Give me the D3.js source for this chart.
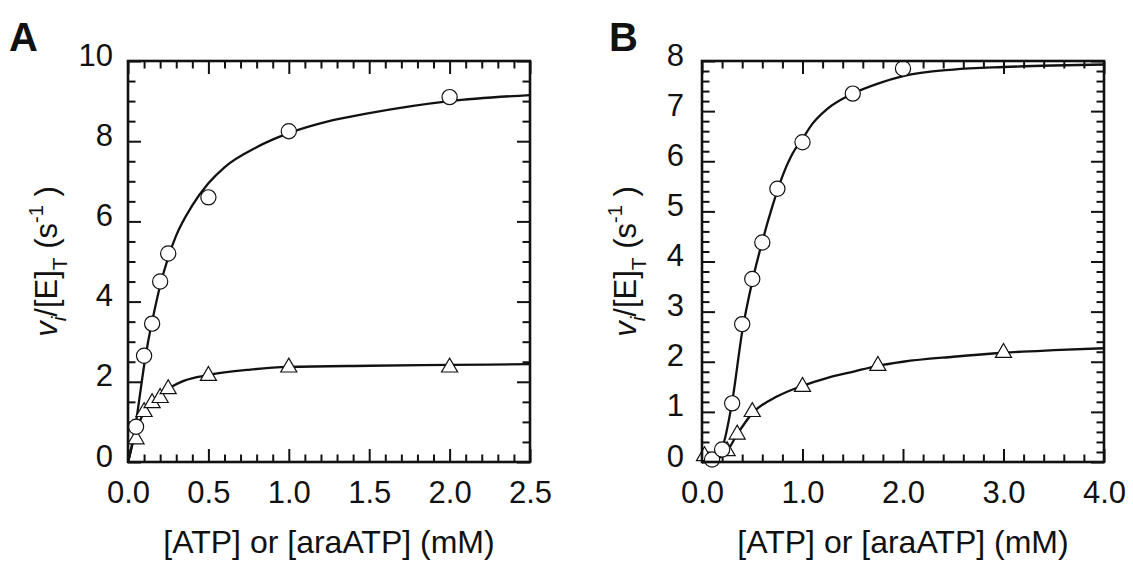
<!DOCTYPE html>
<html>
<head>
<meta charset="utf-8">
<script src="https://cdn.jsdelivr.net/npm/d3@7"></script>
<style>
  html, body { margin: 0; padding: 0; background: #fff; }
  svg { display: block; }
  text { font-family: "Liberation Sans", Arial, sans-serif; fill: #111; }
</style>
</head>
<body>
<svg id="chart" width="1133" height="562"></svg>
<script>
// ---------------- DATA ----------------
// Panel A
const aAtpConc = [0.05, 0.1, 0.15, 0.2, 0.25, 0.5, 1.0, 2.0];
const aAtpRate = [0.88, 2.65, 3.45, 4.5, 5.2, 6.6, 8.25, 9.1];
const aAraConc = [0.05, 0.1, 0.15, 0.2, 0.25, 0.5, 1.0, 2.0];
const aAraRate = [0.57, 1.25, 1.47, 1.6, 1.82, 2.15, 2.36, 2.36];
const aAtpFitConc = [0, 0.01, 0.03, 0.05, 0.075, 0.1, 0.125, 0.15, 0.2, 0.25, 0.3, 0.4, 0.5, 0.6, 0.8, 1.0, 1.25, 1.5, 2.0, 2.5];
const aAtpFitRate = [0, 0.15, 0.55, 1.0, 1.7, 2.4, 3.0, 3.5, 4.4, 5.1, 5.65, 6.4, 6.95, 7.35, 7.85, 8.2, 8.5, 8.7, 9.0, 9.15];
const aAraFitConc = [0, 0.05, 0.1, 0.15, 0.2, 0.25, 0.35, 0.5, 0.75, 1.0, 1.5, 2.0, 2.5];
const aAraFitRate = [0, 0.75, 1.25, 1.5, 1.65, 1.82, 2.03, 2.17, 2.3, 2.37, 2.4, 2.42, 2.44];
const aXTickLabels = ["0.0", "0.5", "1.0", "1.5", "2.0", "2.5"];
const aYTickLabels = ["0", "2", "4", "6", "8", "10"];

// Panel B
const bAtpConc = [0.1, 0.2, 0.3, 0.4, 0.5, 0.6, 0.75, 1.0, 1.5, 2.0];
const bAtpRate = [0.05, 0.25, 1.17, 2.75, 3.65, 4.38, 5.45, 6.38, 7.35, 7.85];
const bAraConc = [0.025, 0.25, 0.35, 0.5, 1.0, 1.75, 3.0];
const bAraRate = [0.12, 0.22, 0.55, 1.0, 1.5, 1.92, 2.18];
const bAtpFitConc = [0, 0.1, 0.2, 0.3, 0.4, 0.5, 0.6, 0.7, 0.8, 0.9, 1.0, 1.1, 1.25, 1.5, 1.75, 2.0, 2.5, 3.0, 3.5, 4.0];
const bAtpFitRate = [0, 0.05, 0.28, 1.2, 2.6, 3.6, 4.4, 5.1, 5.7, 6.15, 6.45, 6.75, 7.05, 7.35, 7.55, 7.7, 7.83, 7.88, 7.91, 7.93];
const bAraFitConc = [0, 0.1, 0.2, 0.25, 0.35, 0.5, 0.75, 1.0, 1.25, 1.5, 1.75, 2.0, 2.5, 3.0, 3.5, 4.0];
const bAraFitRate = [0, 0.03, 0.12, 0.22, 0.55, 0.97, 1.31, 1.52, 1.68, 1.8, 1.92, 2.0, 2.1, 2.18, 2.23, 2.27];
const bXTickLabels = ["0.0", "1.0", "2.0", "3.0", "4.0"];
const bYTickLabels = ["0", "1", "2", "3", "4", "5", "6", "7", "8"];

const xTitle = "[ATP] or [araATP] (mM)";

// ---------------- DRAW ----------------
const svg = d3.select("#chart");

function drawPanel(p) {
  const g = svg.append("g");
  const x = d3.scaleLinear().domain(p.xDomain).range([p.left, p.right]);
  const y = d3.scaleLinear().domain(p.yDomain).range([p.bottom, p.top]);

  const xMajor = p.xLabels.map(Number);
  const yMajor = p.yLabels.map(Number);
  const xMinor = d3.range(Math.round((p.xDomain[1] - p.xDomain[0]) / p.xMinorStep) + 1)
    .map(i => p.xDomain[0] + i * p.xMinorStep)
    .filter(v => !xMajor.some(m => Math.abs(m - v) < 1e-9));
  const yMinor = d3.range(Math.round((p.yDomain[1] - p.yDomain[0]) / p.yMinorStep) + 1)
    .map(i => p.yDomain[0] + i * p.yMinorStep)
    .filter(v => !yMajor.some(m => Math.abs(m - v) < 1e-9));

  const MAJ = 13, MIN = 7.5;
  function tickAxis(gen, tr, vals, len) {
    const a = g.append("g").attr("transform", tr)
      .call(gen.tickValues(vals).tickSize(-len).tickFormat(""));
    a.select(".domain").remove();
    a.selectAll("line").attr("stroke", "#111").attr("stroke-width", 2);
  }
  tickAxis(d3.axisBottom(x), `translate(0,${p.bottom})`, xMinor, MIN);
  tickAxis(d3.axisBottom(x), `translate(0,${p.bottom})`, xMajor, MAJ);
  tickAxis(d3.axisTop(x), `translate(0,${p.top})`, xMinor, MIN);
  tickAxis(d3.axisTop(x), `translate(0,${p.top})`, xMajor, MAJ);
  tickAxis(d3.axisLeft(y), `translate(${p.left},0)`, yMinor, MIN);
  tickAxis(d3.axisLeft(y), `translate(${p.left},0)`, yMajor, MAJ);
  tickAxis(d3.axisRight(y), `translate(${p.right},0)`, yMinor, MIN);
  tickAxis(d3.axisRight(y), `translate(${p.right},0)`, yMajor, MAJ);

  const xl = g.append("g").attr("transform", `translate(0,${p.bottom})`)
    .call(d3.axisBottom(x).tickValues(xMajor).tickSize(0).tickPadding(19)
      .tickFormat((d, i) => p.xLabels[i]));
  xl.select(".domain").remove();
  xl.selectAll("text").attr("font-size", 31).attr("font-family", "Liberation Sans, Arial, sans-serif").attr("fill", "#111");

  const yl = g.append("g").attr("transform", `translate(${p.left},0)`)
    .call(d3.axisLeft(y).tickValues(yMajor).tickSize(0).tickPadding(p.yPad)
      .tickFormat((d, i) => p.yLabels[i]));
  yl.select(".domain").remove();
  yl.selectAll("text").attr("font-size", 31).attr("dy", "0.13em")
    .attr("font-family", "Liberation Sans, Arial, sans-serif").attr("fill", "#111");

  const line = d3.line().x(d => x(d[0])).y(d => y(d[1])).curve(d3.curveMonotoneX);
  [[p.fitC1, p.fitR1], [p.fitC2, p.fitR2]].forEach(([c, r]) => {
    g.append("path").datum(c.map((v, i) => [v, r[i]]))
      .attr("d", line).attr("fill", "none").attr("stroke", "#111")
      .attr("stroke-width", 2.3).attr("stroke-linejoin", "round");
  });

  const tri = d3.symbol().type(d3.symbolTriangle).size(112);
  g.append("g").selectAll("path").data(p.triC.map((v, i) => [v, p.triR[i]]))
    .join("path")
    .attr("transform", d => `translate(${x(d[0])},${y(d[1])})`)
    .attr("d", tri).attr("fill", "#fff").attr("stroke", "#111").attr("stroke-width", 1.2);

  g.append("g").selectAll("circle").data(p.cirC.map((v, i) => [v, p.cirR[i]]))
    .join("circle")
    .attr("cx", d => x(d[0])).attr("cy", d => y(d[1])).attr("r", 7.6)
    .attr("fill", "#fff").attr("stroke", "#111").attr("stroke-width", 1.2);

  g.append("rect").attr("x", p.left).attr("y", p.top)
    .attr("width", p.right - p.left).attr("height", p.bottom - p.top)
    .attr("fill", "none").attr("stroke", "#111").attr("stroke-width", 2.6);

  g.append("text").attr("x", (p.left + p.right) / 2).attr("y", 553)
    .attr("text-anchor", "middle").attr("font-size", 32).text(xTitle);

  const yt = g.append("text")
    .attr("transform", `translate(${p.yTitleX},${(p.top + p.bottom) / 2}) rotate(-90)`)
    .attr("text-anchor", "middle").attr("font-size", 31);
  yt.append("tspan").attr("font-style", "italic").text("v");
  yt.append("tspan").attr("font-style", "italic").attr("font-size", 21).attr("dy", 9).text("i");
  yt.append("tspan").attr("dy", -9).text("/[E]");
  yt.append("tspan").attr("font-size", 21).attr("dy", 10).text("T");
  yt.append("tspan").attr("dy", -10).text(" (s");
  yt.append("tspan").attr("font-size", 20).attr("dy", -14).text("-1");
  yt.append("tspan").attr("dy", 14).text(" )");

  g.append("text").attr("x", p.letterX).attr("y", 51)
    .attr("font-family", "'Open Sans', 'Liberation Sans', sans-serif")
    .attr("font-weight", "bold").attr("font-size", 40).text(p.letter);
}

drawPanel({
  letter: "A", letterX: 9,
  left: 128, right: 530, top: 61, bottom: 462,
  xDomain: [0, 2.5], yDomain: [0, 10], xMinorStep: 0.1, yMinorStep: 0.5,
  xLabels: aXTickLabels, yLabels: aYTickLabels, yPad: 15, yTitleX: 57,
  cirC: aAtpConc, cirR: aAtpRate, triC: aAraConc, triR: aAraRate,
  fitC1: aAtpFitConc, fitR1: aAtpFitRate, fitC2: aAraFitConc, fitR2: aAraFitRate
});

drawPanel({
  letter: "B", letterX: 609,
  left: 702, right: 1104, top: 61, bottom: 462,
  xDomain: [0, 4], yDomain: [0, 8], xMinorStep: 0.2, yMinorStep: 0.2,
  xLabels: bXTickLabels, yLabels: bYTickLabels, yPad: 18, yTitleX: 636,
  cirC: bAtpConc, cirR: bAtpRate, triC: bAraConc, triR: bAraRate,
  fitC1: bAtpFitConc, fitR1: bAtpFitRate, fitC2: bAraFitConc, fitR2: bAraFitRate
});
</script>
</body>
</html>
